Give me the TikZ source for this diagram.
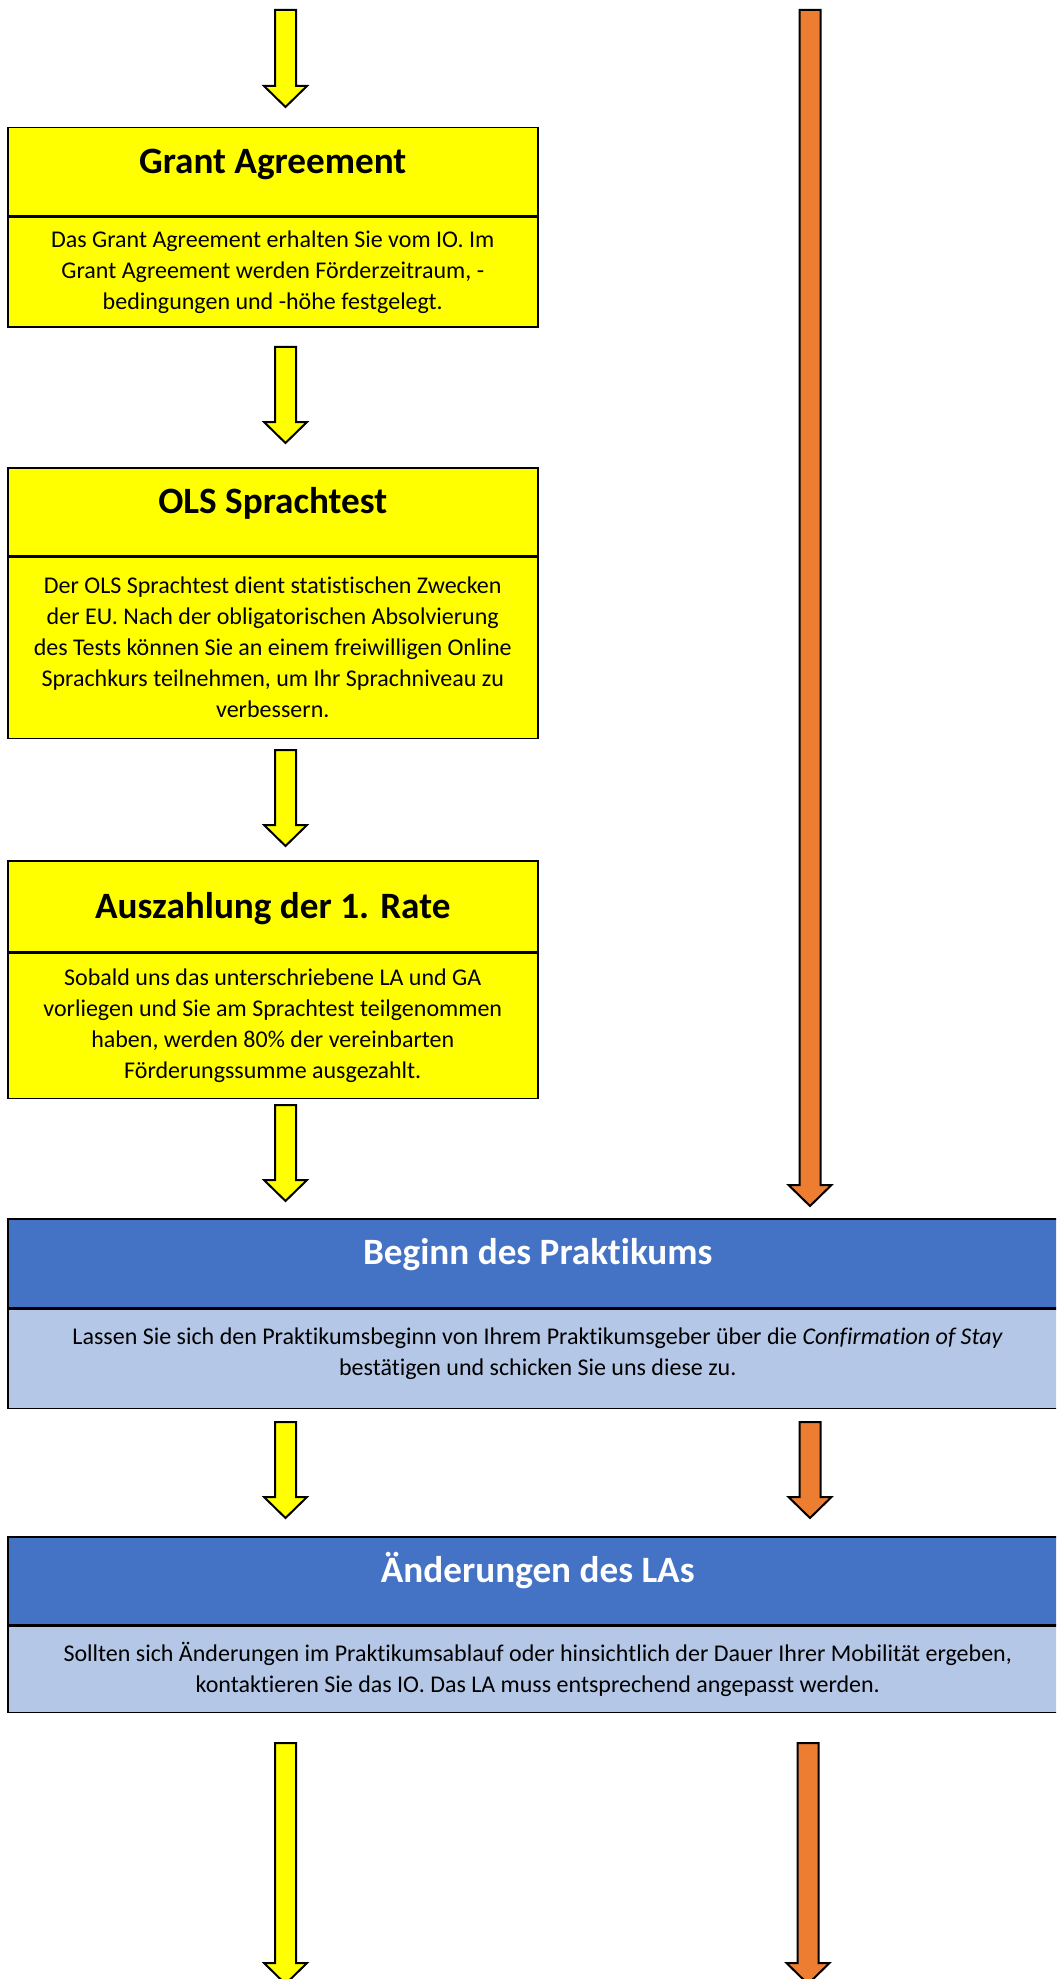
\documentclass[tikz,border=0pt]{standalone}
\usepackage{fontspec}
\setmainfont{Carlito}[Ligatures=NoCommon]
\usepackage{tikz}
\usetikzlibrary{positioning,calc}

\definecolor{boxyellow}{HTML}{FFFF00}
\definecolor{arrorange}{HTML}{ED7D31}
\definecolor{headblue}{HTML}{4472C4}
\definecolor{bodyblue}{HTML}{B4C7E7}

% block arrow from #1 down to #2, filled with #3
\newcommand{\blockarrow}[3]{%
  \draw [line width=1pt, line join=miter, fill=#3] let \p1=(#1), \p2=(#2) in
    (\x1-5.25pt,\y1) -- (\x1+5.25pt,\y1) -- (\x1+5.25pt,\y2+10.5pt)
    -- (\x1+10.75pt,\y2+10.5pt) -- (\x2,\y2) -- (\x1-10.75pt,\y2+10.5pt)
    -- (\x1-5.25pt,\y2+10.5pt) -- cycle;}

\begin{document}
\begin{tikzpicture}[x=0.5pt, y=-0.5pt,
    head/.style={draw, line width=0.75pt, inner sep=0pt, anchor=north west,
        font=\fontsize{18.6}{22}\selectfont\bfseries, text height=22.75pt, text depth=21.25pt},
    yhead/.style={head, fill=boxyellow, minimum width=265pt},
    bhead/.style={head, fill=headblue, text=white, minimum width=530pt},
    body/.style={draw, line width=0.75pt, align=center, inner sep=0pt,
        font=\fontsize{12}{15.5}\selectfont},
    ybody/.style={body, fill=boxyellow, minimum width=265pt},
    bbody/.style={body, fill=bodyblue, minimum width=530pt}]
    \useasboundingbox (0,0) rectangle (1056,1979);
    \clip (0,0) rectangle (1056,1979);

    % Boxes {title, text}
    \node [yhead]                       (gaH)   at (7,127)   {Grant Agreement};
    \node [ybody, minimum height=55pt]  (gaB)   [below=0pt of gaH]
        {Das Grant Agreement erhalten Sie vom IO. Im\\
         Grant Agreement werden Förderzeitraum, -\\
         bedingungen und -höhe festgelegt.};

    \node [yhead]                       (olsH)  at (7,467)   {OLS Sprachtest};
    \node [ybody, minimum height=90.5pt] (olsB) [below=0pt of olsH]
        {Der OLS Sprachtest dient statistischen Zwecken\\
         der EU. Nach der obligatorischen Absolvierung\\
         des Tests können Sie an einem freiwilligen Online\\
         Sprachkurs teilnehmen, um Ihr Sprachniveau zu\\
         verbessern.};

    \node [yhead, text height=29pt, text depth=16.5pt] (rateH) at (7,860) {Auszahlung der 1. Rate};
    \node [ybody, minimum height=72.5pt] (rateB) [below=0pt of rateH]
        {Sobald uns das unterschriebene LA und GA\\
         vorliegen und Sie am Sprachtest teilgenommen\\
         haben, werden 80\% der vereinbarten\\
         Förderungssumme ausgezahlt.};

    \node [bhead, text height=23pt, text depth=21.5pt] (startH) at (7,1218) {Beginn des Praktikums};
    \node [bbody, minimum height=49.5pt, text depth=7pt] (startB) [below=0pt of startH]
        {Lassen Sie sich den Praktikumsbeginn von Ihrem Praktikumsgeber über die \textit{Confirmation of Stay}\\
         bestätigen und schicken Sie uns diese zu.};

    \node [bhead]                       (laH)   at (7,1536)  {Änderungen des LAs};
    \node [bbody, minimum height=43pt]  (laB)   [below=0pt of laH]
        {Sollten sich Änderungen im Praktikumsablauf oder hinsichtlich der Dauer Ihrer Mobilität ergeben,\\
         kontaktieren Sie das IO. Das LA muss entsprechend angepasst werden.};

    % Arrow ends
    \coordinate (y1s) at (285.5,10);   \coordinate (y1t) at (285.5,107);
    \coordinate (y2s) at (285.5,347);  \coordinate (y2t) at (285.5,443);
    \coordinate (y3s) at (285.5,750);  \coordinate (y3t) at (285.5,846);
    \coordinate (y4s) at (285.5,1105); \coordinate (y4t) at (285.5,1201);
    \coordinate (y5s) at (285.5,1422); \coordinate (y5t) at (285.5,1518);
    \coordinate (y6s) at (285.5,1743); \coordinate (y6t) at (285.5,1984);
    \coordinate (o1s) at (810,10);     \coordinate (o1t) at (810,1206);
    \coordinate (o2s) at (810,1422);   \coordinate (o2t) at (810,1518);
    \coordinate (o3s) at (808,1743);   \coordinate (o3t) at (808,1984);

    % Arrows
    \blockarrow{y1s}{y1t}{boxyellow}
    \blockarrow{y2s}{y2t}{boxyellow}
    \blockarrow{y3s}{y3t}{boxyellow}
    \blockarrow{y4s}{y4t}{boxyellow}
    \blockarrow{y5s}{y5t}{boxyellow}
    \blockarrow{y6s}{y6t}{boxyellow}
    \blockarrow{o1s}{o1t}{arrorange}
    \blockarrow{o2s}{o2t}{arrorange}
    \blockarrow{o3s}{o3t}{arrorange}

\end{tikzpicture}
\end{document}
